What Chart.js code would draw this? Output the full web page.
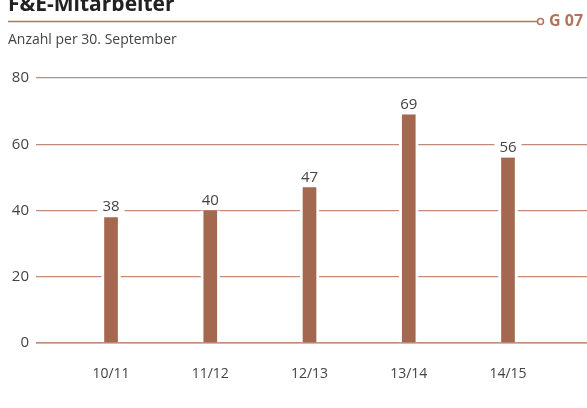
<!DOCTYPE html>
<html>
<head>
<meta charset="utf-8">
<script src="https://cdn.jsdelivr.net/npm/chart.js@4"></script>
<style>
  html, body { margin: 0; padding: 0; background: #fff; }
  #wrap { width: 587px; height: 408px; position: relative; }
</style>
</head>
<body>
<div id="wrap"><canvas id="chart" width="587" height="408"></canvas></div>
<script>
// chart data
const categories = ['10/11', '11/12', '12/13', '13/14', '14/15'];
const employees = [38, 40, 47, 69, 56];
const yTicks = [0, 20, 40, 60, 80];

const titleText = 'F&E-Mitarbeiter';
const subtitleText = 'Anzahl per 30. September';
const figureTag = 'G 07';

const barColor = '#a4674f';
const gridColor = '#c08b75';
const lineColor = '#b3725a';
const textColor = '#444';
const fontFamily = '"Open Sans", "DejaVu Sans", sans-serif';

// header: title, rule with circle and figure number
const headerPlugin = {
    id: 'header',
    afterDraw(chart) {
        const ctx = chart.ctx;
        ctx.save();
        ctx.fillStyle = '#222';
        ctx.font = 'bold 21px ' + fontFamily;
        ctx.textBaseline = 'alphabetic';
        ctx.fillText(titleText, 8, 11);

        ctx.strokeStyle = lineColor;
        ctx.lineWidth = 1.5;
        ctx.beginPath();
        ctx.moveTo(8, 21.5);
        ctx.lineTo(537, 21.5);
        ctx.stroke();
        ctx.beginPath();
        ctx.arc(540.5, 21.5, 3, 0, Math.PI * 2);
        ctx.stroke();

        ctx.fillStyle = lineColor;
        ctx.font = 'bold 16px ' + fontFamily;
        ctx.textBaseline = 'middle';
        ctx.fillText(figureTag, 549, 21);

        ctx.fillStyle = textColor;
        ctx.font = '14px ' + fontFamily;
        ctx.fillText(subtitleText, 8, 40);
        ctx.restore();
    }
};

// value labels above the bars, on a white box that cuts the grid line
const valueLabels = {
    id: 'valueLabels',
    afterDatasetsDraw(chart) {
        const ctx = chart.ctx;
        const meta = chart.getDatasetMeta(0);
        const yScale = chart.scales.y;
        ctx.save();
        // keep the zero line running under the bars
        ctx.strokeStyle = gridColor;
        ctx.lineWidth = 1.2;
        ctx.beginPath();
        ctx.moveTo(chart.chartArea.left, yScale.getPixelForValue(0));
        ctx.lineTo(chart.chartArea.right, yScale.getPixelForValue(0));
        ctx.stroke();

        ctx.font = '15px ' + fontFamily;
        ctx.textAlign = 'center';
        ctx.textBaseline = 'middle';
        meta.data.forEach((bar, i) => {
            const txt = String(employees[i]);
            const w = ctx.measureText(txt).width + 10;
            const cy = bar.y - 10;
            ctx.fillStyle = '#fff';
            ctx.fillRect(bar.x - w / 2, cy - 8, w, 16);
            ctx.fillStyle = textColor;
            ctx.fillText(txt, bar.x, cy);
        });
        ctx.restore();
    }
};

new Chart(document.getElementById('chart'), {
    type: 'bar',
    data: {
        datasets: [{
            data: employees.map((v, i) => ({ x: i, y: v })),
            backgroundColor: barColor,
            borderColor: '#fff',
            borderWidth: { left: 3, right: 3, top: 0, bottom: 0 },
            borderSkipped: false,
            barThickness: 19
        }]
    },
    options: {
        responsive: false,
        animation: false,
        layout: { padding: { top: 78, left: 0, right: 0, bottom: 0 } },
        plugins: { legend: { display: false }, tooltip: { enabled: false } },
        scales: {
            x: {
                type: 'linear',
                offset: false,
                min: -0.756,
                max: 4.796,
                afterBuildTicks: scale => { scale.ticks = categories.map((c, i) => ({ value: i })); },
                afterFit: scale => { scale.height = 65; },
                grid: { display: false },
                border: { display: false },
                ticks: {
                    callback: v => categories[v],
                    color: textColor,
                    font: { family: fontFamily, size: 14 },
                    padding: 15,
                    maxRotation: 0,
                    autoSkip: false
                }
            },
            y: {
                min: 0,
                max: 80,
                afterBuildTicks: scale => { scale.ticks = yTicks.map(v => ({ value: v })); },
                afterFit: scale => { scale.width = 36; },
                grid: { color: gridColor, lineWidth: 1.2, drawTicks: false },
                border: { display: false },
                ticks: {
                    color: textColor,
                    font: { family: fontFamily, size: 15 },
                    padding: 7
                }
            }
        }
    },
    plugins: [headerPlugin, valueLabels]
});
</script>
</body>
</html>
